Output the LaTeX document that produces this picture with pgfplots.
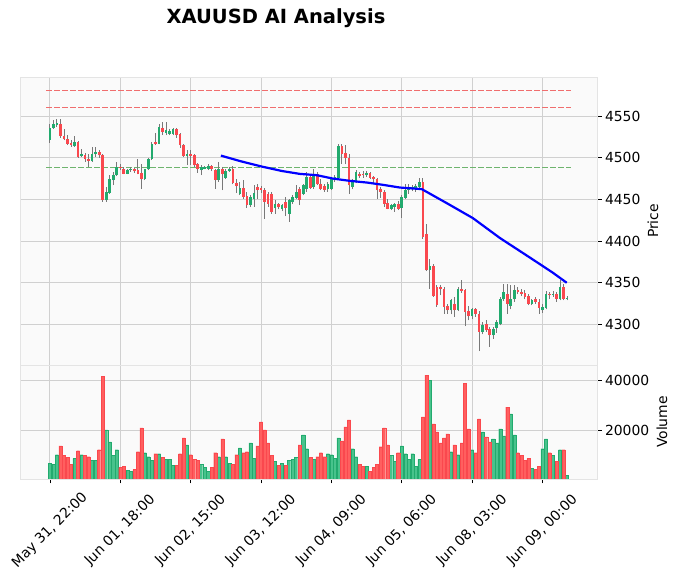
\documentclass[border=0pt]{standalone}
\usepackage{fontspec}
\setmainfont{DejaVu Sans}
\usepackage{pgfplots}
\usepackage{pgfplotstable}
\pgfplotsset{compat=1.18}
\definecolor{upc}{RGB}{34,170,110}
\definecolor{dnc}{RGB}{250,72,78}
\definecolor{vupc}{RGB}{72,195,140}
\definecolor{vdnc}{RGB}{255,95,95}
\definecolor{wickc}{RGB}{120,120,120}
\definecolor{bgc}{RGB}{250,250,250}
\definecolor{gridc}{RGB}{208,208,208}
\definecolor{framec}{RGB}{228,228,228}
\definecolor{slc}{RGB}{240,110,110}
\definecolor{entc}{RGB}{110,180,110}

\pgfplotstableread{
i o h l c v
0 4521 4541 4518 4536 7300
1 4536 4545 4535 4540 6670
2 4539 4547 4537 4542 10590
3 4541 4546 4524 4526 14120
4 4526 4534 4521 4522 10200
5 4522 4527 4515 4517 9410
6 4518 4521 4513 4515 6670
7 4514 4526 4513 4519 9020
8 4519 4520 4500 4501 12160
9 4502 4510 4501 4505 10590
10 4503 4506 4495 4498 10200
11 4498 4505 4489 4496 9800
12 4496 4513 4495 4505 8240
13 4504 4513 4501 4507 8240
14 4507 4509 4500 4503 12550
15 4503 4504 4447 4449 41570
16 4449 4465 4447 4459 20400
17 4458 4479 4457 4474 15690
18 4473 4483 4467 4479 10200
19 4479 4495 4478 4489 12550
20 4489 4492 4485 4488 5490
21 4487 4489 4480 4481 5880
22 4481 4486 4480 4485 4320
23 4485 4489 4483 4487 3920
24 4486 4488 4482 4484 4710
25 4485 4498 4480 4481 11770
26 4482 4493 4463 4474 21180
27 4474 4487 4473 4486 11370
28 4486 4500 4485 4499 9800
29 4499 4519 4497 4517 8240
30 4519 4530 4515 4516 10980
31 4517 4540 4516 4537 10980
32 4536 4543 4527 4531 9410
33 4530 4543 4527 4533 8630
34 4529 4535 4527 4532 8630
35 4529 4536 4527 4534 6280
36 4534 4536 4524 4527 6280
37 4528 4530 4512 4515 10980
38 4515 4516 4501 4502 17260
39 4502 4509 4491 4504 14510
40 4504 4509 4491 4502 10590
41 4503 4505 4489 4491 8630
42 4492 4494 4482 4487 8240
43 4485 4491 4479 4489 6670
44 4487 4490 4486 4489 5490
45 4487 4492 4485 4490 3920
46 4490 4491 4484 4487 5490
47 4485 4486 4463 4473 11370
48 4473 4495 4471 4487 9800
49 4487 4489 4461 4481 16860
50 4476 4486 4475 4484 9800
51 4484 4489 4483 4487 7060
52 4487 4490 4468 4470 6670
53 4470 4474 4458 4466 10590
54 4456 4471 4455 4464 13330
55 4464 4473 4451 4453 11370
56 4454 4459 4440 4443 11770
57 4443 4455 4441 4453 15300
58 4450 4467 4441 4458 9020
59 4465 4468 4451 4461 14120
60 4464 4466 4458 4461 23530
61 4461 4464 4427 4447 20400
62 4457 4459 4441 4445 15300
63 4457 4459 4433 4435 10200
64 4440 4449 4433 4445 7850
65 4444 4446 4438 4441 6280
66 4439 4445 4436 4443 7060
67 4447 4453 4430 4440 6280
68 4433 4451 4423 4449 8240
69 4447 4455 4445 4453 8630
70 4452 4467 4450 4459 9500
71 4463 4465 4443 4449 14510
72 4457 4469 4455 4467 18430
73 4463 4483 4459 4477 12940
74 4477 4479 4463 4464 9410
75 4465 4487 4463 4481 8630
76 4481 4483 4467 4468 9800
77 4469 4475 4461 4463 11370
78 4466 4468 4459 4461 9800
79 4462 4471 4459 4468 10980
80 4463 4477 4461 4475 10590
81 4474 4479 4471 4477 9020
82 4476 4516 4475 4514 17260
83 4514 4516 4493 4505 16080
84 4506 4515 4492 4500 21570
85 4500 4505 4457 4467 24310
86 4465 4474 4462 4471 12940
87 4472 4485 4470 4483 9800
88 4481 4483 4476 4478 6670
89 4480 4484 4476 4479 5880
90 4479 4484 4477 4482 5880
91 4482 4483 4475 4476 3920
92 4477 4478 4470 4474 5490
93 4474 4476 4451 4461 6670
94 4462 4465 4452 4459 13730
95 4459 4461 4441 4445 21180
96 4446 4451 4438 4439 14510
97 4439 4445 4437 4443 10200
98 4441 4446 4435 4444 7850
99 4444 4448 4437 4439 11370
100 4440 4455 4428 4453 14120
101 4452 4469 4451 4461 10980
102 4461 4469 4457 4465 8630
103 4462 4467 4460 4465 10980
104 4463 4469 4459 4466 5880
105 4465 4476 4463 4471 8630
106 4471 4476 4403 4405 25490
107 4409 4421 4364 4365 41960
108 4365 4379 4343 4370 40000
109 4370 4373 4333 4334 22740
110 4345 4347 4321 4323 19610
111 4345 4347 4335 4342 15300
112 4342 4345 4313 4321 17260
113 4322 4325 4313 4317 18820
114 4317 4330 4312 4329 11770
115 4324 4333 4309 4317 14510
116 4317 4345 4316 4343 10590
117 4343 4353 4338 4340 15300
118 4341 4343 4298 4315 38820
119 4316 4322 4305 4310 20780
120 4310 4320 4306 4318 12550
121 4318 4320 4309 4313 11370
122 4313 4316 4268 4291 24710
123 4291 4303 4288 4299 19610
124 4301 4305 4291 4293 17650
125 4294 4297 4273 4287 15690
126 4287 4297 4283 4295 16860
127 4296 4305 4290 4303 15300
128 4301 4333 4299 4331 20780
129 4330 4348 4328 4339 18040
130 4337 4348 4313 4325 29410
131 4322 4347 4318 4330 26670
132 4330 4347 4327 4341 18430
133 4341 4345 4336 4339 11370
134 4339 4342 4334 4337 10200
135 4338 4341 4330 4333 8240
136 4334 4336 4323 4325 9020
137 4325 4331 4323 4329 5100
138 4331 4333 4325 4327 4710
139 4327 4330 4313 4320 5880
140 4317 4325 4314 4321 12940
141 4320 4340 4318 4337 16860
142 4337 4339 4331 4336 11370
143 4336 4340 4333 4337 10200
144 4337 4339 4327 4331 7850
145 4331 4353 4329 4345 12550
146 4345 4349 4329 4331 12550
147 4331 4334 4329 4332 2350
}\data

\pgfplotsset{
  mplpanel/.style={
    scale only axis,
    width=577bp,
    xmin=-8.5, xmax=155.5,
    axis background/.style={fill=bgc},
    axis line style={framec},
    grid=major,
    major grid style={gridc, line width=1bp},
    tick align=outside,
    major tick length=4.5bp,
    tick style={black, line width=0.8bp},
    xtick={0,20,40,60,80,100,120,140},
    xtick pos=bottom,
    ytick pos=right,
    yticklabel pos=right,
    ticklabel style={font=\fontsize{13.9bp}{16bp}\selectfont},
    /pgf/number format/assume math mode=true,
    scaled y ticks=false,
    yticklabel style={/pgf/number format/.cd, fixed, 1000 sep={}},
    clip=true,
  },
  errplot/.style={draw=none, mark=none, forget plot,
    error bars/y dir=plus, error bars/y explicit, error bars/error mark=none},
}

\begin{document}
\begin{tikzpicture}[x=1bp,y=1bp]
\useasboundingbox (0,0) rectangle (679,579);

% ---------- price panel ----------
\begin{axis}[mplpanel,
  at={(20bp,214bp)}, anchor=south west,
  height=288bp,
  ymin=4251.4, ymax=4596.8,
  ytick={4300,4350,4400,4450,4500,4550},
  xticklabels={},
  xtick style={draw=none},
  every axis y label/.style={at={(rel axis cs:1,0.5)}, xshift=56bp, rotate=90, anchor=center, font=\fontsize{13.9bp}{16bp}\selectfont},
  ylabel={Price},
]
% horizontal levels
\addplot[slc, line width=1bp, dash pattern=on 5.5bp off 2.5bp] coordinates {(-1,4580) (148,4580)};
\addplot[slc, line width=1bp, dash pattern=on 5.5bp off 2.5bp] coordinates {(-1,4560.8) (148,4560.8)};
\addplot[entc, line width=1bp, dash pattern=on 5.5bp off 2.5bp] coordinates {(-1,4488.5) (148,4488.5)};
% wicks
\addplot[errplot, error bars/error bar style={draw=wickc, line width=0.9bp}]
  table[x=i, y=l, y error plus expr={\thisrow{h}-\thisrow{l}}] {\data};
% up bodies
\addplot[errplot, restrict expr to domain={\thisrow{c}-\thisrow{o}}{0:1000},
  error bars/error bar style={draw=upc, line width=2.7bp}]
  table[x=i, y=o, y error plus expr={\thisrow{c}-\thisrow{o}}] {\data};
% down bodies
\addplot[errplot, restrict expr to domain={\thisrow{o}-\thisrow{c}}{0.001:1000},
  error bars/error bar style={draw=dnc, line width=2.7bp}]
  table[x=i, y=c, y error plus expr={\thisrow{o}-\thisrow{c}}] {\data};
% forecast line
\addplot[blue, line width=2.2bp] coordinates {
(48.6,4502.5) (54,4496) (60.2,4489.4) (66,4484) (71,4480.6) (75.9,4479) (80.4,4475) (85.3,4472.2)
(90.1,4470.2) (94.6,4467.5) (99.5,4464.2) (105.7,4462.3) (113,4445) (120.2,4427.6)
(127.9,4403.7) (137.3,4377.8) (142.9,4362.2) (146.9,4350)};
\end{axis}

% ---------- volume panel ----------
\begin{axis}[mplpanel,
  at={(20bp,100bp)}, anchor=south west,
  height=114bp,
  ymin=1000, ymax=46000,
  ytick={20000,40000},
  xticklabels={{May 31, 22:00},{Jun 01, 18:00},{Jun 02, 15:00},{Jun 03, 12:00},{Jun 04, 09:00},{Jun 05, 06:00},{Jun 08, 03:00},{Jun 09, 00:00}},
  xticklabel style={yshift=-47bp, rotate=45, anchor=center},
  every axis y label/.style={at={(rel axis cs:1,0.5)}, xshift=65bp, rotate=90, anchor=center, font=\fontsize{13.9bp}{16bp}\selectfont},
  ylabel={Volume},
]
\addplot[ybar, bar width=0.88, bar shift=0pt, fill=vupc, draw=upc, line width=0.4bp,
  restrict expr to domain={\thisrow{c}-\thisrow{o}}{0:1000}]
  table[x=i, y=v] {\data};
\addplot[ybar, bar width=0.88, bar shift=0pt, fill=vdnc, draw=dnc, line width=0.4bp,
  restrict expr to domain={\thisrow{o}-\thisrow{c}}{0.001:1000}]
  table[x=i, y=v] {\data};
\end{axis}

\node[font=\bfseries\fontsize{19.5bp}{22bp}\selectfont] at (276,561) {XAUUSD AI Analysis};
\end{tikzpicture}
\end{document}
